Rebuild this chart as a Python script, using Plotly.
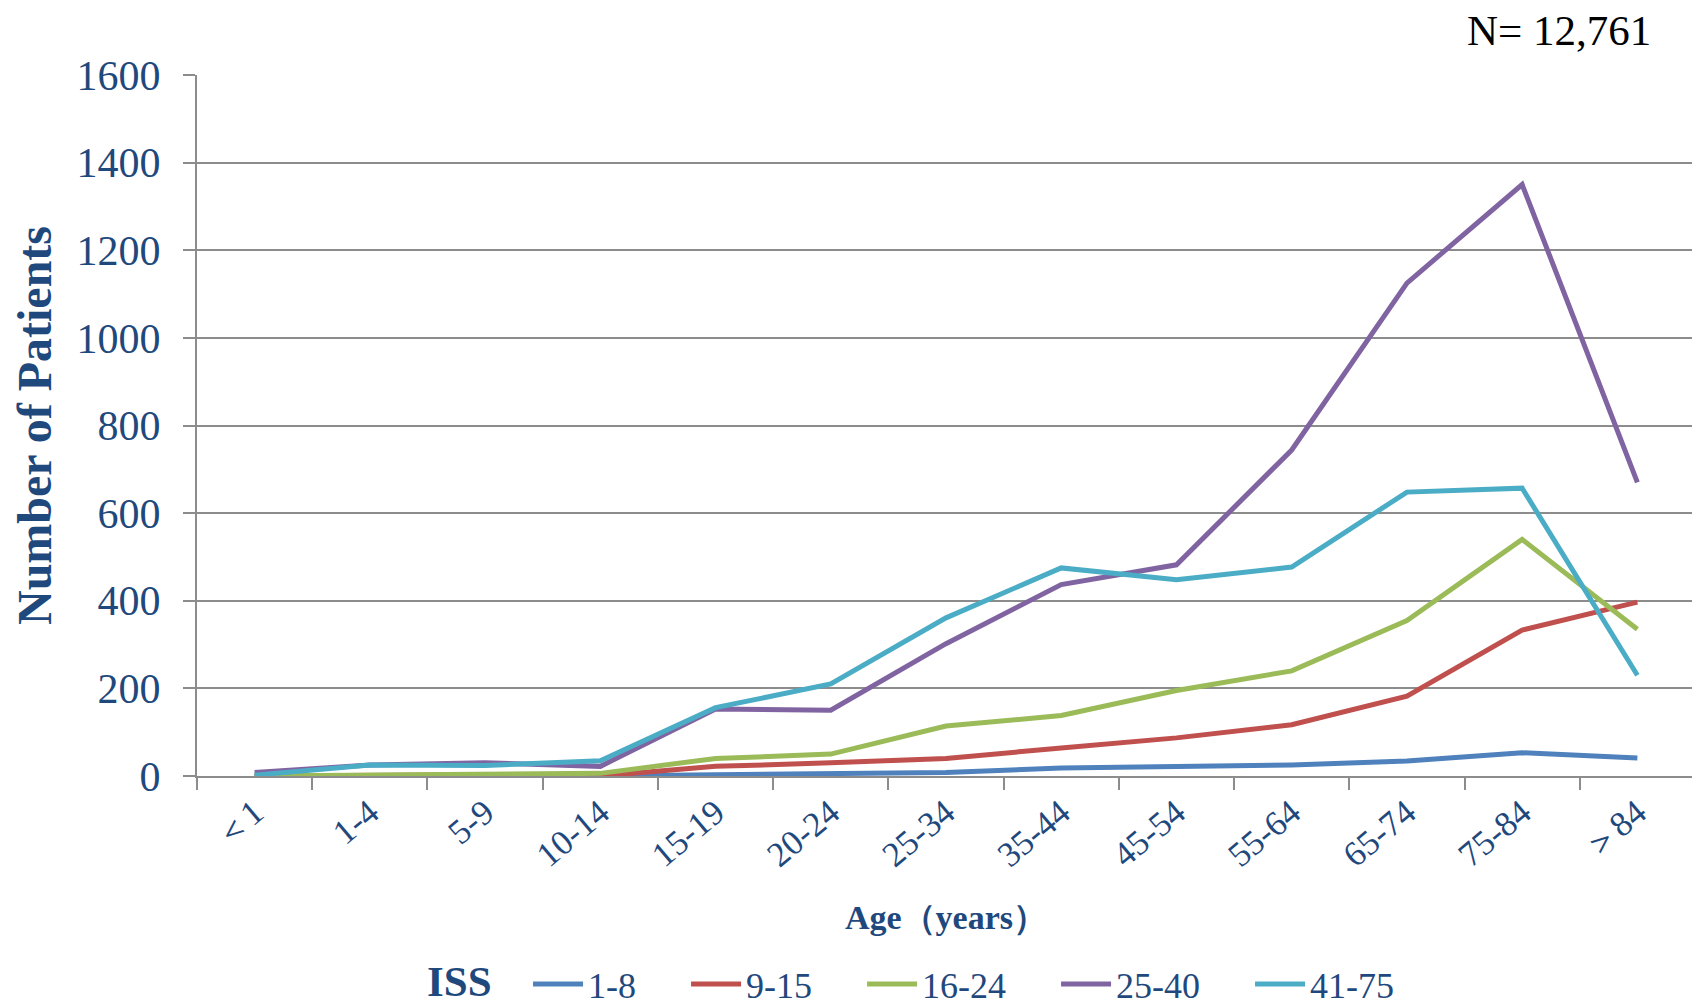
import plotly.graph_objects as go

age_groups = ["＜1", "1-4", "5-9", "10-14", "15-19", "20-24", "25-34",
              "35-44", "45-54", "55-64", "65-74", "75-84", "＞84"]

iss_1_8 = [0, 0, 0, 0, 3, 6, 8, 18, 21, 25, 34, 53, 41]
iss_9_15 = [0, 1, 3, 0, 22, 30, 40, 64, 87, 117, 182, 333, 397]
iss_16_24 = [0, 2, 4, 6, 40, 50, 114, 138, 195, 240, 355, 540, 335]
iss_25_40 = [8, 25, 30, 22, 153, 150, 302, 437, 482, 744, 1125, 1350, 670]
iss_41_75 = [2, 25, 24, 35, 156, 210, 361, 475, 448, 477, 648, 657, 230]

series = [
    ("1-8", iss_1_8, "#4F81BD"),
    ("9-15", iss_9_15, "#C0504D"),
    ("16-24", iss_16_24, "#9BBB59"),
    ("25-40", iss_25_40, "#8064A2"),
    ("41-75", iss_41_75, "#4BACC6"),
]

TXT = "#1F497D"
FONT = "Liberation Serif"
PAD = "\u00a0" * 5  # extra room between legend entries

fig = go.Figure()
for name, vals, col in series:
    fig.add_trace(go.Scatter(
        x=age_groups, y=vals, name=name + PAD, mode="lines",
        line=dict(color=col, width=5),
    ))

# page body has an 8px margin, so the figure is shrunk by that much
fig.update_layout(
    width=1692, height=999,
    paper_bgcolor="white", plot_bgcolor="white",
    font=dict(family=FONT, color=TXT, size=30),
    margin=dict(l=189, r=5, t=67, b=231, autoexpand=False),
    legend=dict(
        orientation="h", x=0.221, xanchor="left", y=-0.297, yanchor="middle",
        font=dict(size=36, color=TXT), itemwidth=50, tracegroupgap=0,
    ),
    annotations=[
        dict(text="N= 12,761", xref="paper", yref="paper", x=0.972, y=1.064,
             xanchor="right", yanchor="middle", showarrow=False,
             font=dict(size=43, color="black", family=FONT)),
        dict(text="<b>ISS</b>", xref="paper", yref="paper", x=0.175, y=-0.293,
             xanchor="center", yanchor="middle", showarrow=False,
             font=dict(size=43, color=TXT, family=FONT)),
    ],
)

fig.update_xaxes(
    type="category", range=[-0.5, 12.5], tickson="boundaries",
    ticks="outside", ticklen=12, tickcolor="#8c8c8c", tickwidth=2,
    showline=True, linecolor="#8c8c8c", linewidth=2, showgrid=False,
    tickangle=-40, tickfont=dict(size=35), automargin=False,
    title=dict(text="<b>Age（years）</b>", font=dict(size=34), standoff=32),
)
fig.update_yaxes(
    range=[0, 1600], dtick=200, ticks="outside", ticklen=12,
    tickcolor="#8c8c8c", tickwidth=2, showline=True, linecolor="#8c8c8c",
    linewidth=2, gridcolor="#8c8c8c", gridwidth=1.5, tickfont=dict(size=42),
    zeroline=False, ticklabelstandoff=14, automargin=False,
    title=dict(text="<b>Number of Patients</b>", font=dict(size=48), standoff=38),
)

fig.write_html("out.html")
